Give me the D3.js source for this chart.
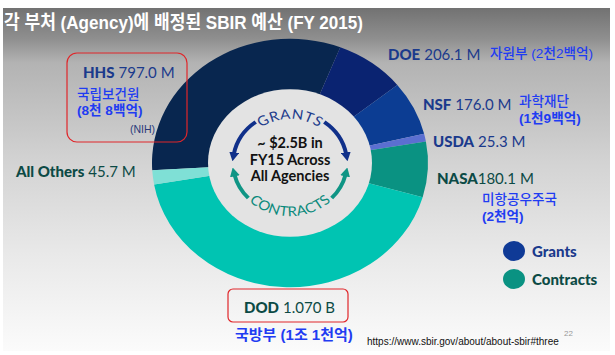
<!DOCTYPE html>
<html><head><meta charset="utf-8">
<script src="https://cdn.jsdelivr.net/npm/d3@7/dist/d3.min.js"></script>
<style>
html,body{margin:0;padding:0;background:#fff;}
svg{display:block;}
</style></head>
<body>
<script>
// ---- data ----
const agencies = ["HHS","DOE","NSF","USDA","NASA","DOD","All Others"];
const budgets = [797.0, 206.1, 176.0, 25.3, 180.1, 1070, 45.7];
const valueLabels = ["797.0 M","206.1 M","176.0 M","25.3 M","180.1 M","1.070 B","45.7 M"];
const koreanNotes = [["국립보건원","(8천 8백억)"],["자원부 (2천2백억)"],["과학재단","(1천9백억)"],[],["미항공우주국","(2천억)"],["국방부 (1조 1천억)"],[]];
const awardTypes = ["Grants","Grants","Grants","Grants","Contracts","Contracts","Contracts"];
const legendItems = ["Grants","Contracts"];
const titleText = "각 부처 (Agency)에 배정된 SBIR 예산 (FY 2015)";
const centerLines = ["~ $2.5B in","FY15 Across","All Agencies"];
const sourceText = "https://www.sbir.gov/about/about-sbir#three";
const pageNo = "22";

// ---- styles / layout ----
const W = 615, H = 355;
const sliceColor = d3.scaleOrdinal().domain(agencies)
  .range(["#08264f","#0a2371","#0c3d93","#5b6fd1","#0a9282","#00c4b2","#7fe0d6"]);
const labelColor = {Grants:"#1b3a8c", Contracts:"#0c4a45"};
const koreanBlue = "#1f3cf2";
const labelPos = {
  "HHS":[83,78], "DOE":[388,60], "NSF":[423,110], "USDA":[433,147],
  "NASA":[437,184], "DOD":[244,313], "All Others":[16,177]
};
const notePos = {
  "HHS":[77,99,16], "DOE":[490,58,16], "NSF":[519,106,16.5], "NASA":[482,204,16.5], "DOD":[235,340,16]
};
const cx = 290, cy = 163, rOuter = 138, rInner = 82, squish = 0.9;

const svg = d3.select("body").append("svg").attr("width",W).attr("height",H);
const defs = svg.append("defs");
const bg = defs.append("linearGradient").attr("id","bg").attr("x1",0).attr("y1",0).attr("x2",0).attr("y2",1);
[[0,"#727272"],[0.09,"#8f8f8f"],[0.16,"#b3b3b3"],[0.45,"#d3d3d3"],[0.72,"#e9e9e9"],[1,"#fbfbfb"]]
  .forEach(([o,c])=>bg.append("stop").attr("offset",o).attr("stop-color",c));

svg.append("rect").attr("width",W).attr("height",H).attr("fill","#fff");
svg.append("rect").attr("x",3).attr("y",8).attr("width",607).attr("height",343).attr("fill","url(#bg)");

// title
svg.append("text").attr("x",4).attr("y",29).text(titleText)
  .attr("font-family","'Liberation Sans','Noto Sans CJK KR',sans-serif")
  .attr("font-weight","bold").attr("font-size",19).attr("fill","#fff")
  .attr("textLength",359).attr("lengthAdjust","spacingAndGlyphs");

// donut
const g = svg.append("g").attr("transform",`translate(${cx},${cy}) scale(1,${squish})`);
const startA = -93.4*Math.PI/180;
const pie = d3.pie().sort(null).value(d=>d.v).startAngle(startA).endAngle(startA+2*Math.PI);
const arcs = pie(agencies.map((a,i)=>({a, v:budgets[i]})));
const arc = d3.arc().innerRadius(rInner-1).outerRadius(rOuter);
g.selectAll("path.slice").data(arcs).join("path").attr("class","slice")
  .attr("d",arc).attr("fill",d=>sliceColor(d.data.a));
g.append("circle").attr("r",rInner).attr("fill","#e3e3e3");

// center arrows
["nav","teal"].forEach((k)=>{
  defs.append("marker").attr("id","ah-"+k).attr("viewBox","0 0 10 10")
    .attr("refX",2).attr("refY",5).attr("markerWidth",10).attr("markerHeight",10)
    .attr("markerUnits","userSpaceOnUse").attr("orient","auto")
    .append("path").attr("d","M0,0 L10,5 L0,10 z").attr("fill",k==="nav"?"#10308a":"#0f9585");
});
const rad = x=>x*Math.PI/180;
function arcPath(r,a0,a1){
  const p = d3.path();
  p.moveTo(r*Math.sin(rad(a0)), -r*Math.cos(rad(a0)));
  p.arc(0,0,r,rad(a0)-Math.PI/2,rad(a1)-Math.PI/2,a1<a0);
  return p.toString();
}
const arrowR = 57;
[[-37,-80,"nav"],[37,80,"nav"],[-133,-103,"teal"],[133,103,"teal"]].forEach(([a0,a1,k])=>{
  g.append("path").attr("d",arcPath(arrowR,a0,a1)).attr("fill","none")
   .attr("stroke",k==="nav"?"#10308a":"#0f9585").attr("stroke-width",4)
   .attr("marker-end",`url(#ah-${k})`);
});
// arc texts
const topR = 49, botR = 59;
defs.append("path").attr("id","topArc").attr("d",arcPath(topR,-60,60));
(function(){
  const p = d3.path(); const a0=-130, a1=-230;
  p.moveTo(botR*Math.sin(rad(a0)), -botR*Math.cos(rad(a0)));
  p.arc(0,0,botR,rad(a0)-Math.PI/2,rad(a1)-Math.PI/2,true);
  defs.append("path").attr("id","botArc").attr("d",p.toString());
})();
g.append("text").attr("font-family","Lato,sans-serif").attr("font-size",15).attr("fill","#1e3c8c")
  .attr("letter-spacing",0.5)
  .append("textPath").attr("href","#topArc").attr("startOffset","50%").attr("text-anchor","middle").text("GRANTS");
g.append("text").attr("font-family","Lato,sans-serif").attr("font-size",15).attr("fill","#0b8a7c")
  .attr("letter-spacing",0.3)
  .append("textPath").attr("href","#botArc").attr("startOffset","50%").attr("text-anchor","middle").text("CONTRACTS");

svg.append("g").selectAll("text").data(centerLines).join("text")
  .attr("x",cx).attr("y",(d,i)=>cy-15+i*16.5).attr("text-anchor","middle")
  .attr("font-family","Lato,sans-serif").attr("font-weight","bold").attr("font-size",14.5)
  .attr("fill","#121212").text(d=>d);

// red highlight boxes
[[67,53,120,89,10],[228,289,120,33,5]].forEach(([x,y,w,h,r])=>{
  svg.append("rect").attr("x",x).attr("y",y).attr("width",w).attr("height",h).attr("rx",r)
    .attr("fill","none").attr("stroke","#e0262a").attr("stroke-width",1.2);
});

// agency labels
const lab = svg.append("g").attr("font-family","Lato,sans-serif").attr("font-size",15);
agencies.forEach((a,i)=>{
  const [x,y] = labelPos[a];
  const t = lab.append("text").attr("x",x).attr("y",y).attr("fill",labelColor[awardTypes[i]]);
  t.append("tspan").attr("font-weight","900").text(a);
  t.append("tspan").attr("font-weight","400").attr("dx",a==="NASA"?0:4).text(valueLabels[i]);
});
// NIH
svg.append("text").attr("x",130).attr("y",133).attr("font-family","'Liberation Sans',sans-serif")
  .attr("font-size",10.5).attr("fill","#2a3a7a").text("(NIH)");

// Korean notes (multi-line as tspans of one text)
const kn = svg.append("g").attr("font-family","'Liberation Sans','Noto Sans CJK KR',sans-serif").attr("fill",koreanBlue);
agencies.forEach((a,i)=>{
  if(!notePos[a]) return;
  const [x,y,lh] = notePos[a];
  const t = kn.append("text").attr("x",x).attr("y",y).attr("font-size",a==="DOD"?15:13.6);
  koreanNotes[i].forEach((line,j)=>{
    t.append("tspan").attr("x",x).attr("dy",j===0?0:lh)
      .attr("font-weight",(j>0||a==="DOD")?"bold":"500").text(line);
  });
});

// legend
const leg = svg.append("g");
legendItems.forEach((k,i)=>{
  leg.append("ellipse").attr("cx",514).attr("cy",251+i*28).attr("rx",11).attr("ry",10)
    .attr("fill",k==="Grants"?"#0f3a96":"#0a9282");
  leg.append("text").attr("x",532).attr("y",257+i*28).attr("font-family","Lato,sans-serif")
    .attr("font-weight","900").attr("font-size",15).attr("fill",labelColor[k]).text(k);
});

// source
svg.append("text").attr("x",367).attr("y",345).attr("font-family","'Liberation Sans',sans-serif")
  .attr("font-size",10).attr("fill","#111").text(sourceText);
svg.append("text").attr("x",564).attr("y",336).attr("font-family","'Liberation Sans',sans-serif")
  .attr("font-size",8).attr("fill","#999").text(pageNo);
</script>
</body></html>
